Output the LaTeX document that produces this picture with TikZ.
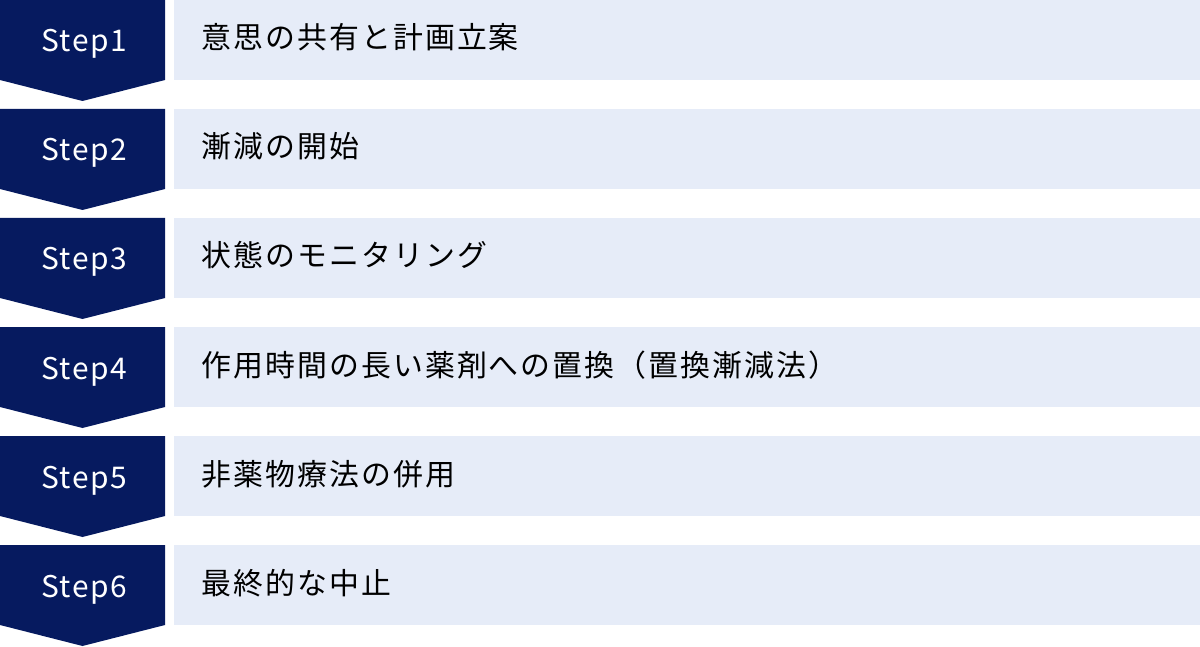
\documentclass[tikz,border=0pt]{standalone}
\usepackage{fontspec}
\setmainfont{Noto Sans CJK JP}
\definecolor{stepnavy}{HTML}{061A5F}
\definecolor{boxblue}{HTML}{E6ECF8}

\begin{document}
\begin{tikzpicture}[x=1bp,y=-1bp,
	steptext/.style={anchor=base,inner sep=0pt,text=white,
		font=\fontsize{30}{34}\selectfont\addfontfeatures{LetterSpace=5}},
	itemtext/.style={anchor=base west,inner sep=0pt,text=black,
		font=\fontsize{30}{36}\selectfont\addfontfeatures{LetterSpace=7}}]
	\useasboundingbox (0,0) rectangle (1200,647);
	\foreach \i/\txt in {1/意思の共有と計画立案,2/漸減の開始,3/状態のモニタリング,
		4/作用時間の長い薬剤への置換（置換漸減法）,5/非薬物療法の併用,6/最終的な中止}{
		\pgfmathsetmacro{\rowtop}{(\i-1)*109}
		\fill[stepnavy] (0,\rowtop) -- (165,\rowtop) -- (165,\rowtop+80)
			-- (82.5,\rowtop+101) -- (0,\rowtop+80) -- cycle;
		\fill[boxblue] (174,\rowtop) rectangle (1200,\rowtop+80);
		\node[steptext] (step\i) at (84,\rowtop+52) {Step\i};
		\node[itemtext] (item\i) at (201,\rowtop+49) {\txt};
	}
\end{tikzpicture}
\end{document}
